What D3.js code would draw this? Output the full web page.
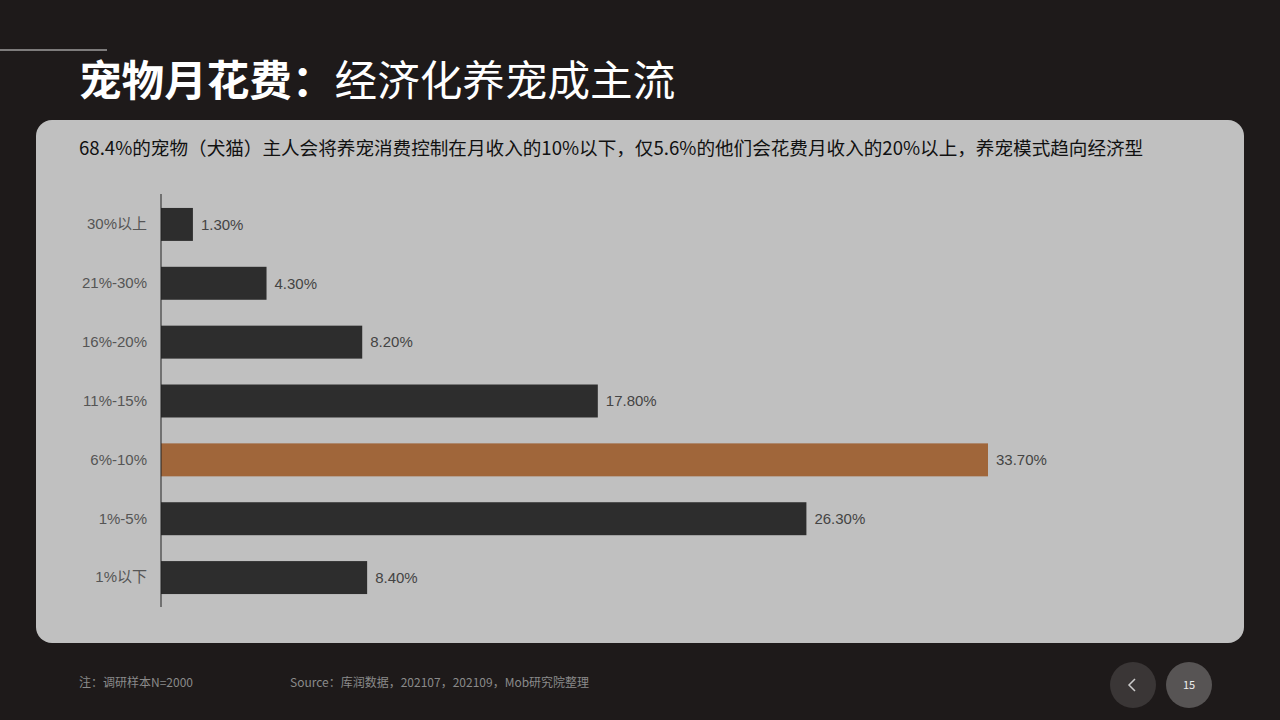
<!DOCTYPE html>
<html><head><meta charset="utf-8">
<script src="https://cdn.jsdelivr.net/npm/d3@7"></script>
<style>body{margin:0;background:#1e1a1a;font-family:"Noto Sans CJK SC","Noto Sans",sans-serif}</style>
</head><body>
<svg id="chart" width="1280" height="720"></svg>
<script>
// chart data
const categories = ["30%以上", "21%-30%", "16%-20%", "11%-15%", "6%-10%", "1%-5%", "1%以下"];
const values = [1.3, 4.3, 8.2, 17.8, 33.7, 26.3, 8.4];
const highlight = "6%-10%";

const svg = d3.select("#chart");
svg.append("rect").attr("width", 1280).attr("height", 720).attr("fill", "#1e1a1a");
svg.append("line").attr("x1", 0).attr("x2", 107).attr("y1", 50).attr("y2", 50)
    .attr("stroke", "#ddd").attr("stroke-width", 1);

// title
let title = svg.append("text").attr("x", 79).attr("y", 96).attr("fill", "#fff").attr("font-size", 42.6);
title.append("tspan").attr("font-weight", "bold").text("宠物月花费：");
title.append("tspan").text("经济化养宠成主流");

// panel
svg.append("rect").attr("x", 36).attr("y", 120).attr("width", 1208).attr("height", 523)
    .attr("rx", 16).attr("fill", "#c0c0c0");
svg.append("text").attr("x", 79).attr("y", 155).attr("font-size", 18.6).attr("fill", "#111")
    .text("68.4%的宠物（犬猫）主人会将养宠消费控制在月收入的10%以下，仅5.6%的他们会花费月收入的20%以上，养宠模式趋向经济型");

// scales
const x = d3.scaleLinear().domain([0, 33.7]).range([161, 988]);
const y = d3.scaleBand().domain(categories).range([195, 607]).paddingInner(0.44).paddingOuter(0.22);

svg.selectAll("rect.bar").data(categories).join("rect").attr("class", "bar")
    .attr("x", x(0)).attr("y", d => y(d))
    .attr("width", (d, i) => x(values[i]) - x(0)).attr("height", y.bandwidth())
    .attr("fill", d => d === highlight ? "#a0663a" : "#2d2d2d");

svg.selectAll("text.val").data(categories).join("text").attr("class", "val")
    .attr("x", (d, i) => x(values[i]) + 8).attr("y", d => y(d) + y.bandwidth() / 2)
    .attr("dy", "0.35em").attr("font-size", 15).attr("fill", "#444")
    .attr("font-family", "Arial, 'Liberation Sans', sans-serif")
    .text((d, i) => values[i].toFixed(2) + "%");

const axis = svg.append("g").attr("transform", `translate(${x(0)},0)`)
    .call(d3.axisLeft(y).tickSize(0).tickPadding(14));
axis.select(".domain").attr("stroke", "#222").attr("d", "M0,194V607");
axis.selectAll("text").attr("font-size", 15).attr("fill", "#555")
    .attr("font-family", "Arial, 'Noto Sans CJK SC', sans-serif");

// footer
svg.append("text").attr("x", 79).attr("y", 687).attr("font-size", 12).attr("fill", "#8a8a8a").text("注：调研样本N=2000");
svg.append("text").attr("x", 290).attr("y", 687).attr("font-size", 12).attr("fill", "#8a8a8a").text("Source：库润数据，202107，202109，Mob研究院整理");
svg.append("circle").attr("cx", 1133).attr("cy", 685).attr("r", 23).attr("fill", "#3a3636");
svg.append("path").attr("d", "M1135,679 L1129,685 L1135,691").attr("fill", "none").attr("stroke", "#ccc").attr("stroke-width", 1.5);
svg.append("circle").attr("cx", 1189).attr("cy", 685).attr("r", 23).attr("fill", "#575454");
svg.append("text").attr("x", 1189).attr("y", 689).attr("text-anchor", "middle").attr("font-size", 11).attr("fill", "#eee").text("15");
</script>
</body></html>
